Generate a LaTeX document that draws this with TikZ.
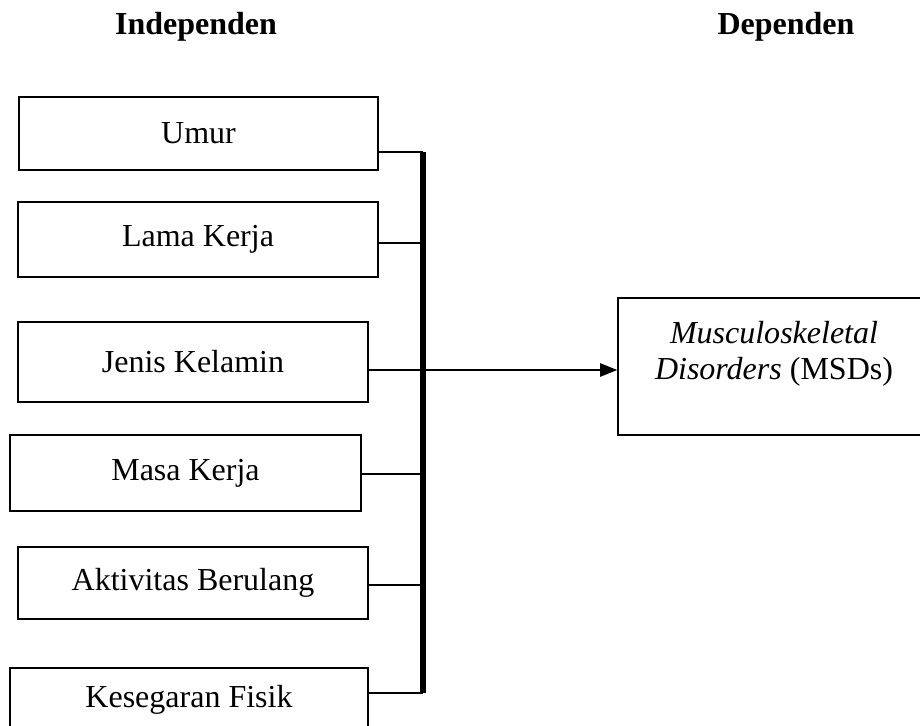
\documentclass[tikz,border=0pt]{standalone}
\usepackage{fontspec}
\setmainfont{Liberation Serif}
\usepackage{tikz}
\usetikzlibrary{arrows.meta}
\tikzset{
  factor/.style  = {draw,line width=0.6pt,inner sep=0pt,align=center,
                    font=\fontsize{12}{14}\selectfont},
  outcome/.style = {factor,minimum width=117pt,minimum height=51.4pt,
                    font=\fontsize{12}{13.6}\selectfont,text depth=12pt},
  head/.style    = {anchor=base,font=\fontsize{12}{14}\selectfont\bfseries},
  tap/.style     = {line width=0.6pt},
  bus/.style     = {line width=1.9pt},
  sig/.style     = {-{Triangle[length=6.4pt,width=5pt]},line width=0.6pt},
}

\begin{document}
\begin{tikzpicture}[x=0.375pt,y=-0.375pt]
  \useasboundingbox (0,0) rectangle (920,726);
  \clip (0,0) rectangle (920,726);

  % Column headings
  \node[head] (hind) at (196,35) {Independen};
  \node[head] (hdep) at (786,35) {Dependen};

  % Independent variables
  \node[factor,minimum width=134.6pt,minimum height=27.4pt] (umur)  at (198.5,133.5) {Umur};
  \node[factor,minimum width=135pt,minimum height=28.1pt]   (lama)  at (198,239.5)   {Lama Kerja};
  \node[factor,minimum width=131.3pt,minimum height=30pt]   (jenis) at (193,362)     {Jenis Kelamin};
  \node[factor,minimum width=131.6pt,minimum height=28.5pt] (masa)  at (185.5,473)   {Masa Kerja};
  \node[factor,minimum width=131.3pt,minimum height=27pt]   (aktif) at (193,583)     {Aktivitas Berulang};
  \node[factor,minimum width=134.3pt,minimum height=24pt]   (bugar) at (189,700)     {Kesegaran Fisik};

  % Dependent variable
  \node[outcome] (msd) at (774,366.5) {\textit{Musculoskeletal}\\\textit{Disorders} (MSDs)};

  % Taps onto the collecting line
  \foreach \n/\y in {umur/152,lama/243,jenis/370,masa/474,aktif/585,bugar/693}{
     \coordinate (t-\n) at (423,\y);
     \draw[tap] (\n.east |- t-\n) -- (t-\n);
  }
  \draw[bus] (t-umur) -- (t-bugar);
  \draw[sig] (t-jenis) -- (msd.west |- t-jenis);
\end{tikzpicture}
\end{document}
